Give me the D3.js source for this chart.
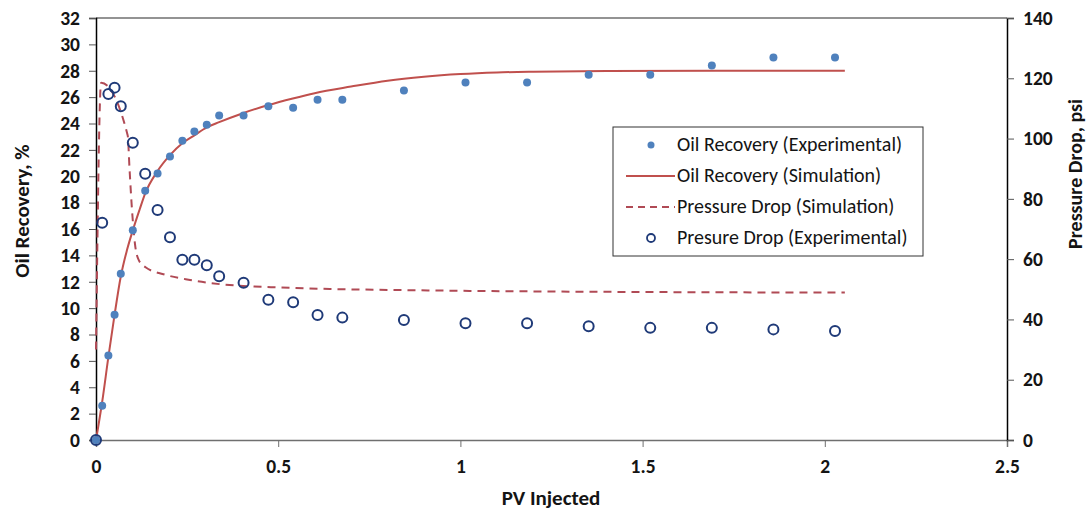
<!DOCTYPE html>
<html>
<head>
<meta charset="utf-8">
<script src="https://cdn.jsdelivr.net/npm/d3@7"></script>
<style>
  html, body { margin: 0; padding: 0; background: #fff; }
  svg { display: block; font-family: Carlito, Lato, "Open Sans", sans-serif; }
</style>
</head>
<body>
<svg id="chart" width="1090" height="513"></svg>
<script>
// Pore volumes injected at each measurement
const pvExp = [0, 0.017, 0.034, 0.051, 0.068, 0.101, 0.135, 0.169, 0.203, 0.237, 0.270, 0.304,
  0.338, 0.405, 0.473, 0.541, 0.608, 0.676, 0.845, 1.014, 1.183, 1.352, 1.521, 1.690, 1.859, 2.028];
// Measured oil recovery, %
const recoveryExp = [0, 2.6, 6.4, 9.5, 12.6, 15.9, 18.9, 20.2, 21.5, 22.7, 23.4, 23.9,
  24.6, 24.6, 25.3, 25.2, 25.8, 25.8, 26.5, 27.1, 27.1, 27.7, 27.7, 28.4, 29.0, 29.0];
// Measured pressure drop, psi
const pressureExp = [0, 72.1, 114.8, 116.9, 110.7, 98.6, 88.3, 76.3, 67.3, 59.8, 59.8, 58.0,
  54.3, 52.2, 46.5, 45.7, 41.5, 40.6, 39.8, 38.7, 38.7, 37.7, 37.2, 37.2, 36.7, 36.2];

// Simulated oil recovery: PV injected and recovery, %
const pvSimRecovery = [0, 0.017, 0.034, 0.051, 0.068, 0.085, 0.101, 0.12, 0.135, 0.169, 0.203, 0.237,
  0.27, 0.304, 0.338, 0.405, 0.473, 0.54, 0.6, 0.7, 0.8, 0.9, 1.0, 1.1, 1.2, 1.4, 1.7, 2.055];
const recoverySim = [0, 2.9, 6.3, 9.5, 12.4, 14.4, 15.9, 17.5, 18.7, 20.4, 21.6, 22.5,
  23.1, 23.7, 24.1, 24.8, 25.4, 25.9, 26.3, 26.8, 27.25, 27.55, 27.75, 27.87, 27.93, 27.98, 28.0, 28.0];

// Simulated pressure drop: PV injected and pressure drop, psi
const pvSimPressure = [0, 0.014, 0.087, 0.092, 0.099, 0.107, 0.118, 0.136, 0.185, 0.258, 0.34,
  0.404, 0.505, 0.642, 0.8, 1.0, 1.5, 2.055];
const pressureSim = [30, 118.5, 101, 90, 76, 65, 59.5, 57.3, 55.0, 53.1, 51.7,
  51.1, 50.6, 50.1, 49.8, 49.5, 49.1, 48.9];

const xTicks = [0, 0.5, 1, 1.5, 2, 2.5];
const yLeftTicks = d3.range(0, 33, 2);
const yRightTicks = d3.range(0, 141, 20);

const legendItems = [
  { label: "Oil Recovery (Experimental)", kind: "dot" },
  { label: "Oil Recovery (Simulation)", kind: "solid" },
  { label: "Pressure Drop (Simulation)", kind: "dash" },
  { label: "Presure Drop (Experimental)", kind: "ring" }
];

const W = 1090, H = 513;
const m = { left: 96, right: 83, top: 18, bottom: 73 };
const svg = d3.select("#chart");

const x = d3.scaleLinear().domain([0, 2.5]).range([m.left, W - m.right]);
const yL = d3.scaleLinear().domain([0, 32]).range([H - m.bottom, m.top]);
const yR = d3.scaleLinear().domain([0, 140]).range([H - m.bottom, m.top]);

const dotColor = "#4f81bd";
const ringColor = "#1f3a78";
const solidColor = "#c0504d";
const dashColor = "#b04a55";
const textColor = "#141414";

// top border of the plot area
svg.append("line")
  .attr("x1", m.left).attr("x2", W - m.right)
  .attr("y1", m.top).attr("y2", m.top)
  .attr("stroke", "#6f6f6f").attr("stroke-width", 1.5);

// axes
const gx = svg.append("g")
  .attr("transform", `translate(0,${H - m.bottom})`)
  .call(d3.axisBottom(x).tickValues(xTicks).tickFormat(d3.format("")).tickSize(7).tickPadding(12));
gx.select(".domain").attr("stroke", "#6f6f6f").attr("stroke-width", 1.5);
gx.selectAll(".tick line").attr("stroke", "#6f6f6f");

const gl = svg.append("g")
  .attr("transform", `translate(${m.left},0)`)
  .call(d3.axisLeft(yL).tickValues(yLeftTicks).tickSize(7).tickPadding(9));
gl.select(".domain").attr("stroke", "#000").attr("stroke-width", 1.5);
gl.selectAll(".tick line").attr("stroke", "#555");

const gr = svg.append("g")
  .attr("transform", `translate(${W - m.right},0)`)
  .call(d3.axisRight(yR).tickValues(yRightTicks).tickSize(7).tickPadding(9));
gr.select(".domain").attr("stroke", "#000").attr("stroke-width", 1.5);
gr.selectAll(".tick line").attr("stroke", "#555");

svg.selectAll(".tick text")
  .attr("font-size", 19.5).attr("font-weight", "bold").attr("fill", textColor)
  .style("font-family", "Carlito, Lato, sans-serif");

// axis titles
svg.append("text")
  .attr("x", 551).attr("y", 505)
  .attr("text-anchor", "middle").attr("font-size", 21).attr("font-weight", "bold")
  .attr("fill", textColor).text("PV Injected");
svg.append("text")
  .attr("transform", "translate(29,211) rotate(-90)")
  .attr("text-anchor", "middle").attr("font-size", 21).attr("font-weight", "bold")
  .attr("fill", textColor).text("Oil Recovery, %");
svg.append("text")
  .attr("transform", "translate(1082,174) rotate(-90)")
  .attr("text-anchor", "middle").attr("font-size", 20).attr("font-weight", "bold")
  .attr("fill", textColor).text("Pressure Drop, psi");

// simulated curves
const simRec = pvSimRecovery.map((p, i) => [p, recoverySim[i]]);
const simPres = pvSimPressure.map((p, i) => [p, pressureSim[i]]);

svg.append("path")
  .datum(simPres)
  .attr("fill", "none").attr("stroke", dashColor).attr("stroke-width", 2)
  .attr("stroke-dasharray", "8,6")
  .attr("d", d3.line().x(d => x(d[0])).y(d => yR(d[1])).curve(d3.curveMonotoneX));

svg.append("path")
  .datum(simRec)
  .attr("fill", "none").attr("stroke", solidColor).attr("stroke-width", 2)
  .attr("d", d3.line().x(d => x(d[0])).y(d => yL(d[1])).curve(d3.curveMonotoneX));

// experimental points
svg.append("g").selectAll("circle")
  .data(pvExp.map((p, i) => [p, recoveryExp[i]]))
  .join("circle")
  .attr("cx", d => x(d[0])).attr("cy", d => yL(d[1])).attr("r", 4)
  .attr("fill", dotColor);

svg.append("g").selectAll("circle")
  .data(pvExp.map((p, i) => [p, pressureExp[i]]))
  .join("circle")
  .attr("cx", d => x(d[0])).attr("cy", d => yR(d[1])).attr("r", 5)
  .attr("fill", "none").attr("stroke", ringColor).attr("stroke-width", 2);

// legend
const lg = svg.append("g").attr("transform", "translate(613,127)");
lg.append("rect").attr("width", 310).attr("height", 129)
  .attr("fill", "#fff").attr("stroke", "#333").attr("stroke-width", 1);
const rowY = i => 18 + i * 31;
legendItems.forEach((it, i) => {
  const g = lg.append("g").attr("transform", `translate(0,${rowY(i)})`);
  if (it.kind === "dot") {
    g.append("circle").attr("cx", 38).attr("cy", 0).attr("r", 3.5).attr("fill", dotColor);
  } else if (it.kind === "ring") {
    g.append("circle").attr("cx", 38).attr("cy", 0).attr("r", 4).attr("fill", "none")
      .attr("stroke", ringColor).attr("stroke-width", 1.8);
  } else {
    g.append("line").attr("x1", 13).attr("x2", 62).attr("y1", 0).attr("y2", 0)
      .attr("stroke", it.kind === "solid" ? solidColor : dashColor).attr("stroke-width", 1.8)
      .attr("stroke-dasharray", it.kind === "dash" ? "7,5" : null);
  }
  g.append("text").attr("x", 64).attr("y", 6).attr("font-size", 20)
    .attr("fill", textColor).text(it.label);
});
</script>
</body>
</html>
